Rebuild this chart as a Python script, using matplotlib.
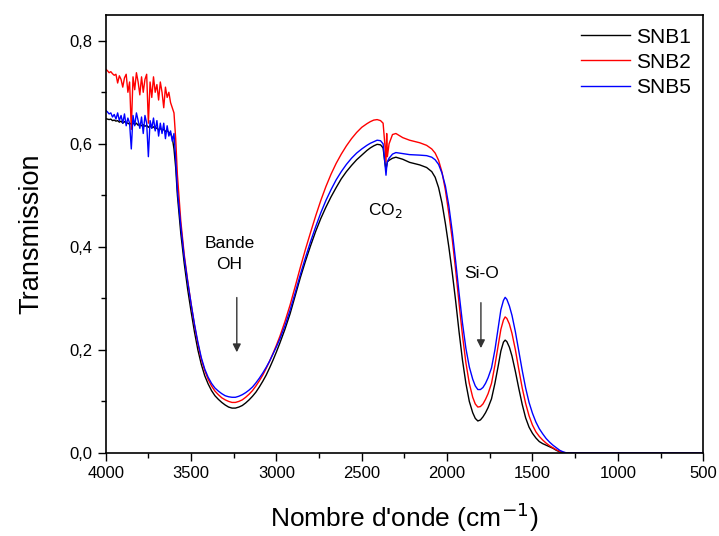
import numpy as np
import matplotlib
matplotlib.use('Agg')
import matplotlib.pyplot as plt
from matplotlib.ticker import FuncFormatter, MultipleLocator

plt.rcParams['font.family'] = ['Liberation Sans', 'DejaVu Sans']

# noisy high-wavenumber region (cm-1)
wn_noisy = [4000, 3990, 3980, 3970, 3960, 3950, 3940, 3930, 3920, 3910,
            3900, 3890, 3880, 3870, 3860, 3850, 3840, 3830, 3820, 3810,
            3800, 3790, 3780, 3770, 3760, 3750, 3740, 3730, 3720, 3710,
            3700, 3690, 3680, 3670, 3660, 3650, 3640, 3630, 3620, 3610]
snb1_noisy = [0.649, 0.648, 0.647, 0.648, 0.645, 0.646, 0.644, 0.645, 0.642, 0.644,
              0.640, 0.643, 0.641, 0.640, 0.638, 0.640, 0.641, 0.637, 0.640, 0.636,
              0.638, 0.635, 0.637, 0.634, 0.636, 0.632, 0.635, 0.631, 0.633, 0.629,
              0.631, 0.627, 0.630, 0.626, 0.628, 0.624, 0.626, 0.622, 0.620, 0.612]
snb2_noisy = [0.745, 0.742, 0.738, 0.740, 0.736, 0.733, 0.735, 0.718, 0.732, 0.725,
              0.710, 0.728, 0.735, 0.700, 0.720, 0.628, 0.730, 0.705, 0.738, 0.720,
              0.695, 0.730, 0.700, 0.725, 0.735, 0.640, 0.720, 0.690, 0.730, 0.700,
              0.715, 0.685, 0.720, 0.700, 0.670, 0.710, 0.690, 0.700, 0.680, 0.670]
snb5_noisy = [0.665, 0.662, 0.658, 0.660, 0.652, 0.657, 0.648, 0.660, 0.645, 0.655,
              0.640, 0.658, 0.635, 0.650, 0.640, 0.590, 0.655, 0.635, 0.660, 0.645,
              0.630, 0.652, 0.620, 0.655, 0.640, 0.575, 0.645, 0.630, 0.650, 0.625,
              0.645, 0.615, 0.640, 0.620, 0.640, 0.610, 0.635, 0.615, 0.625, 0.605]

# rest of the spectrum
wn_main = [3600, 3590, 3580, 3560, 3540, 3520, 3500, 3480, 3460, 3440,
           3420, 3400, 3380, 3360, 3340, 3320, 3300, 3280, 3260, 3240,
           3220, 3200, 3180, 3160, 3140, 3120, 3100, 3080, 3060, 3040,
           3020, 3000, 2980, 2950, 2920, 2890, 2860, 2830, 2800, 2770,
           2740, 2710, 2680, 2650, 2620, 2590, 2560, 2530, 2500, 2470,
           2450, 2430, 2410, 2390, 2375, 2365, 2358, 2354, 2350, 2340,
           2320, 2300, 2260, 2220, 2160, 2120, 2090, 2070, 2050, 2030,
           2010, 1990, 1970, 1950, 1930, 1910, 1890, 1870, 1850, 1835,
           1820, 1805, 1790, 1775, 1760, 1740, 1720, 1700, 1685, 1670,
           1660, 1650, 1635, 1620, 1600, 1580, 1560, 1540, 1520, 1500,
           1480, 1460, 1440, 1420, 1400, 1380, 1360, 1340, 1320, 1300,
           1200, 1000, 800, 600, 500]
snb1_main = [0.590, 0.554, 0.500, 0.426, 0.368, 0.318, 0.275, 0.235, 0.200, 0.172,
             0.150, 0.134, 0.121, 0.111, 0.104, 0.098, 0.093, 0.089, 0.087, 0.087,
             0.089, 0.092, 0.097, 0.103, 0.110, 0.118, 0.128, 0.139, 0.151, 0.165,
             0.180, 0.196, 0.213, 0.240, 0.270, 0.305, 0.340, 0.372, 0.402, 0.430,
             0.455, 0.477, 0.497, 0.515, 0.532, 0.546, 0.558, 0.569, 0.578, 0.587,
             0.592, 0.596, 0.599, 0.598, 0.592, 0.565, 0.550, 0.558, 0.565, 0.568,
             0.572, 0.574, 0.570, 0.564, 0.559, 0.554, 0.546, 0.535, 0.515, 0.485,
             0.445, 0.400, 0.350, 0.295, 0.235, 0.180, 0.135, 0.100, 0.078, 0.067,
             0.062, 0.064, 0.070, 0.078, 0.088, 0.105, 0.135, 0.170, 0.198, 0.215,
             0.219, 0.216, 0.205, 0.188, 0.158, 0.125, 0.094, 0.068, 0.050, 0.038,
             0.029, 0.022, 0.018, 0.015, 0.012, 0.009, 0.005, 0.002, 0.000, 0.000,
             0.000, 0.000, 0.000, 0.000, 0.000]
snb2_main = [0.660, 0.610, 0.540, 0.450, 0.385, 0.335, 0.290, 0.248, 0.212, 0.182,
             0.160, 0.143, 0.130, 0.120, 0.113, 0.107, 0.103, 0.100, 0.098, 0.098,
             0.100, 0.103, 0.108, 0.114, 0.121, 0.130, 0.140, 0.151, 0.164, 0.178,
             0.193, 0.209, 0.226, 0.255, 0.287, 0.323, 0.360, 0.395, 0.428, 0.460,
             0.490, 0.517, 0.541, 0.562, 0.580, 0.596, 0.610, 0.622, 0.632, 0.639,
             0.643, 0.646, 0.647, 0.645, 0.640, 0.600, 0.565, 0.620, 0.575, 0.600,
             0.618, 0.620, 0.612, 0.607, 0.602, 0.597, 0.590, 0.582, 0.568, 0.545,
             0.510, 0.465, 0.415, 0.355, 0.290, 0.228, 0.175, 0.135, 0.108, 0.095,
             0.089, 0.090, 0.095, 0.104, 0.115, 0.135, 0.170, 0.210, 0.240, 0.258,
             0.264, 0.261, 0.250, 0.232, 0.200, 0.162, 0.126, 0.096, 0.072, 0.054,
             0.041, 0.032, 0.025, 0.019, 0.014, 0.010, 0.006, 0.003, 0.001, 0.000,
             0.000, 0.000, 0.000, 0.000, 0.000]
snb5_main = [0.620, 0.570, 0.510, 0.440, 0.380, 0.333, 0.290, 0.250, 0.215, 0.185,
             0.163, 0.147, 0.135, 0.126, 0.120, 0.115, 0.111, 0.109, 0.108, 0.108,
             0.110, 0.113, 0.117, 0.122, 0.128, 0.136, 0.145, 0.155, 0.166, 0.178,
             0.192, 0.206, 0.221, 0.247, 0.277, 0.311, 0.346, 0.379, 0.410, 0.439,
             0.466, 0.490, 0.511, 0.530, 0.546, 0.560, 0.572, 0.582, 0.590, 0.597,
             0.601, 0.604, 0.607, 0.606, 0.600, 0.565, 0.539, 0.555, 0.565, 0.572,
             0.580, 0.583, 0.581, 0.579, 0.578, 0.577, 0.574, 0.569, 0.560, 0.543,
             0.518, 0.480, 0.430, 0.372, 0.310, 0.252, 0.203, 0.167, 0.143, 0.130,
             0.123, 0.123, 0.127, 0.135, 0.146, 0.165, 0.200, 0.245, 0.278, 0.296,
             0.302, 0.298, 0.285, 0.267, 0.235, 0.197, 0.160, 0.126, 0.098, 0.077,
             0.060, 0.047, 0.037, 0.028, 0.021, 0.015, 0.010, 0.005, 0.002, 0.000,
             0.000, 0.000, 0.000, 0.000, 0.000]

wn = np.array(wn_noisy + wn_main)
snb1 = np.array(snb1_noisy + snb1_main)
snb2 = np.array(snb2_noisy + snb2_main)
snb5 = np.array(snb5_noisy + snb5_main)

fig = plt.figure(figsize=(7.19, 5.36), dpi=100)
ax = fig.add_axes([0.147, 0.155, 0.831, 0.817])

ax.plot(wn, snb1, color='black', lw=1.0, label='SNB1')
ax.plot(wn, snb2, color='red', lw=1.0, label='SNB2')
ax.plot(wn, snb5, color='blue', lw=1.0, label='SNB5')

ax.set_xlim(4000, 500)
ax.set_ylim(0, 0.85)
ax.xaxis.set_major_locator(MultipleLocator(500))
ax.xaxis.set_minor_locator(MultipleLocator(250))
ax.yaxis.set_major_locator(MultipleLocator(0.2))
ax.yaxis.set_minor_locator(MultipleLocator(0.1))
ax.yaxis.set_major_formatter(FuncFormatter(lambda v, p: ('%.1f' % v).replace('.', ',')))
ax.tick_params(which='major', direction='out', length=6, width=1, labelsize=12)
ax.tick_params(which='minor', direction='out', length=3.5, width=1)
for s in ax.spines.values():
    s.set_linewidth(1.2)

ax.set_xlabel("Nombre d'onde (cm$^{-1}$)", fontsize=19, labelpad=14)
ax.set_ylabel('Transmission', fontsize=19.5, labelpad=18)

# annotations
ax.text(3275, 0.387, 'Bande\nOH', ha='center', va='center', fontsize=12.5, linespacing=1.5)
ax.annotate('', xy=(3232, 0.19), xytext=(3232, 0.307),
            arrowprops=dict(arrowstyle='-|>', color='#333333', lw=1, mutation_scale=12))
ax.text(2364, 0.47, 'CO$_2$', ha='center', va='center', fontsize=12.5)
ax.text(1796, 0.349, 'Si-O', ha='center', va='center', fontsize=12.5)
ax.annotate('', xy=(1802, 0.198), xytext=(1802, 0.297),
            arrowprops=dict(arrowstyle='-|>', color='#333333', lw=1, mutation_scale=12))

ax.legend(loc='upper right', frameon=False, fontsize=15, handlelength=2.35,
          borderaxespad=0.2, labelspacing=0.3, handletextpad=0.3)

plt.savefig('out.png', dpi=100)
plt.close()
